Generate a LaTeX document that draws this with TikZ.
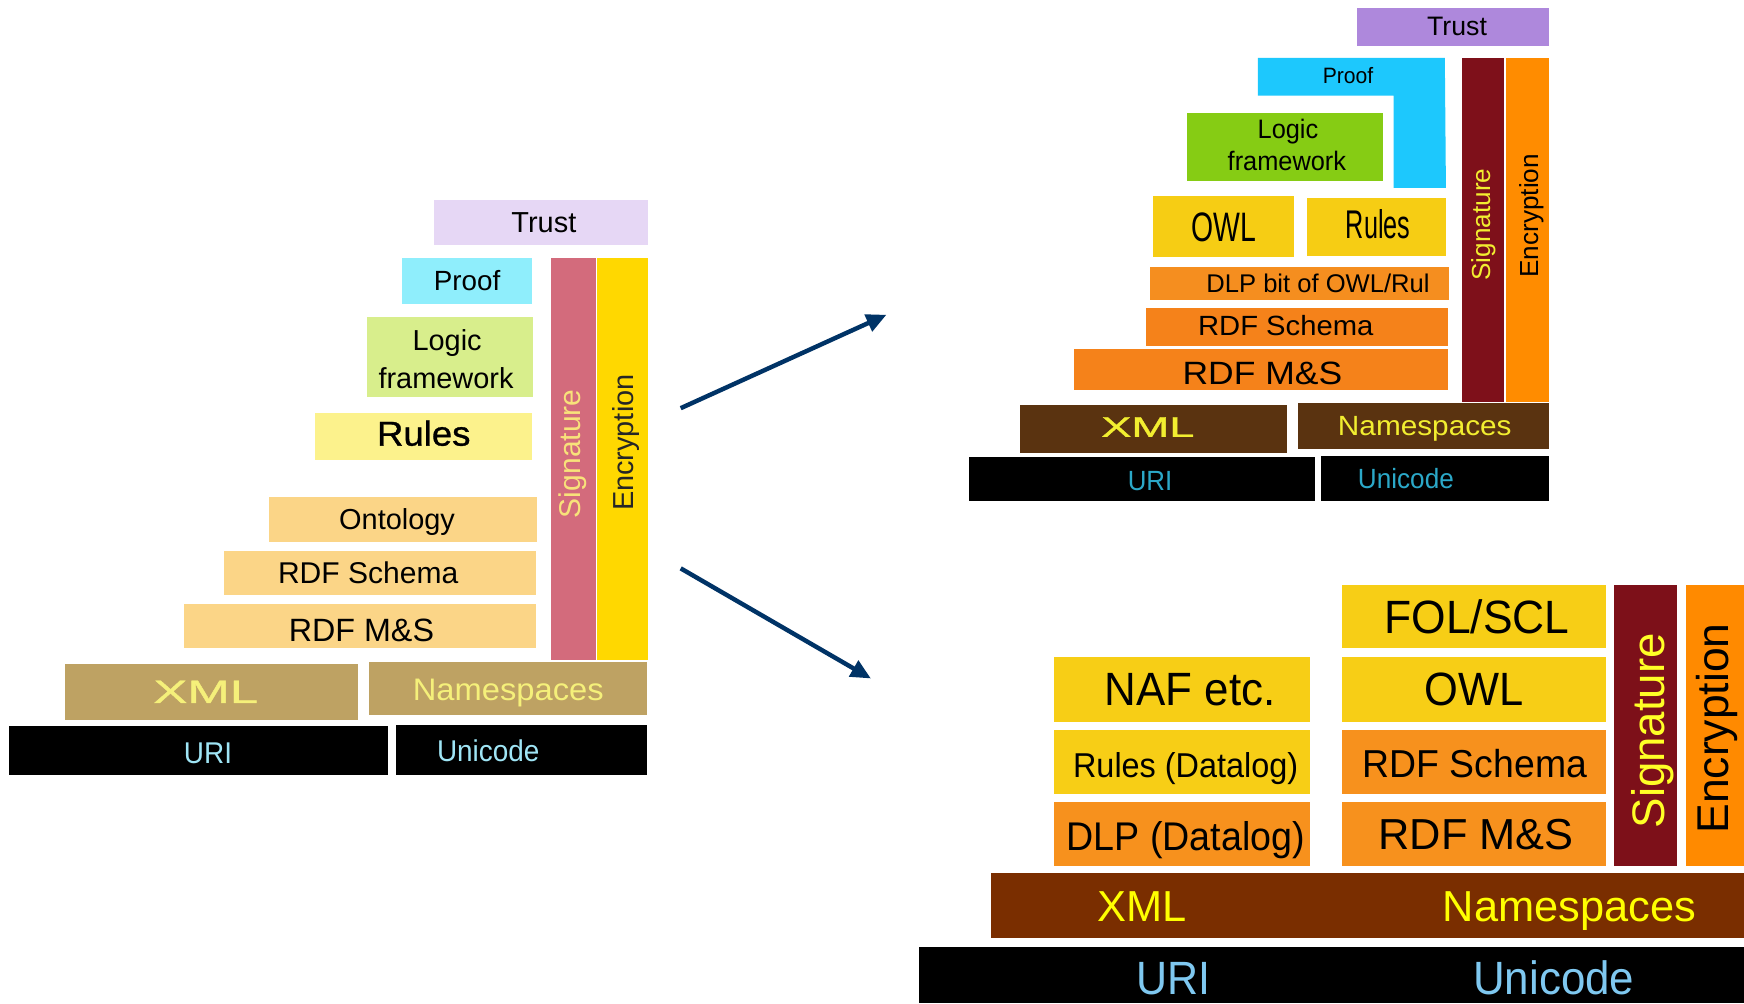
\documentclass[tikz,border=0pt]{standalone}
\usepackage{fontspec}
\setmainfont{Liberation Sans}
\setsansfont{Liberation Sans}
\newfontfamily\medfont{Liberation Sans}[FakeBold=0.9]
\usepackage{graphicx}
\usetikzlibrary{fit,arrows.meta}
\newcommand\tx[3]{\fontsize{#1}{#1}\selectfont\scalebox{#2}[1]{\smash{#3}}\rule{0pt}{\fontcharht\font`H}}
\newcommand\bx[6]{\node[fit={(#2,#3) (#4,#5)}, inner sep=0pt, fill=#6, draw=none] (#1) {};}
% left colours
\definecolor{lTrust}{HTML}{E6D7F5}
\definecolor{lProof}{HTML}{8FEEFC}
\definecolor{lLogic}{HTML}{D8EE8C}
\definecolor{lRules}{HTML}{FCF28C}
\definecolor{lOnto}{HTML}{FBD587}
\definecolor{lSig}{HTML}{D36B7C}
\definecolor{lEnc}{HTML}{FFD800}
\definecolor{lXml}{HTML}{BEA263}
\definecolor{lXmlTxt}{HTML}{F5F07A}
\definecolor{lUriTxt}{HTML}{9FE5F5}
\definecolor{lSigTxt}{HTML}{F8E27A}
% top right colours
\definecolor{rTrust}{HTML}{AE88DC}
\definecolor{rProof}{HTML}{1DC8FD}
\definecolor{rLogic}{HTML}{86CC14}
\definecolor{rYel}{HTML}{F6CD14}
\definecolor{rDlp}{HTML}{F58E1F}
\definecolor{rOr}{HTML}{F5821A}
\definecolor{rSig}{HTML}{7E101A}
\definecolor{rEnc}{HTML}{FF8C00}
\definecolor{rXml}{HTML}{5A3310}
\definecolor{rTxtY}{HTML}{F2EE30}
\definecolor{rUriTxt}{HTML}{2BA8C8}
% bottom right colours
\definecolor{bYel}{HTML}{F7CE16}
\definecolor{bOr}{HTML}{F7911D}
\definecolor{bSig}{HTML}{7D1019}
\definecolor{bEnc}{HTML}{FF8A00}
\definecolor{bXml}{HTML}{7A2E00}
\definecolor{bTxtY}{HTML}{FFFF00}
\definecolor{bUriTxt}{HTML}{7FC8F0}
\definecolor{arrowc}{HTML}{003366}
\begin{document}
\begin{tikzpicture}[x=1pt,y=-1pt,
  lbl/.style={inner sep=0pt, anchor=center},
  conn/.style={draw=arrowc, line width=4pt, -{Triangle[length=18pt,width=16pt]}}]
\useasboundingbox (0,0) rectangle (1568,902);
\fill[white] (0,0) rectangle (1568,902);
%%%%%%%%%%%%%%%% LEFT
\bx{trustL}{390}{180}{583}{220}{lTrust}
\bx{proofL}{361}{232}{478}{273}{lProof}
\bx{logicL}{330}{285}{479}{357}{lLogic}
\bx{rulesL}{283}{371}{478}{414}{lRules}
\bx{ontoL}{242}{447}{483}{487}{lOnto}
\bx{rdfsL}{201}{495}{482}{535}{lOnto}
\bx{rdfmsL}{165}{543}{482}{583}{lOnto}
\bx{sigL}{495}{232}{536}{593}{lSig}
\bx{encL}{537}{232}{583}{593}{lEnc}
\bx{xmlL}{58}{597}{322}{647}{lXml}
\bx{nsL}{332}{595}{582}{643}{lXml}
\bx{uriL}{8}{653}{349}{697}{black}
\bx{uniL}{356}{652}{582}{697}{black}
\node[lbl] (trustLt) at (489,200) {\tx{26}{1}{Trust}};
\node[lbl] (proofLt) at (420,253) {\tx{25}{1}{Proof}};
\node[lbl] (logicLt) at (402,306) {\tx{26}{1}{Logic}};
\node[lbl] (frameLt) at (401,340) {\tx{26}{1}{framework}};
\node[lbl] (rulesLt) at (381,390) {\medfont\tx{31}{1.06}{Rules}};
\node[lbl] (ontoLt) at (357,467) {\tx{26}{1}{Ontology}};
\node[lbl] (rdfsLt) at (331,515) {\tx{27}{1}{RDF Schema}};
\node[lbl] (rdfmsLt) at (325,567) {\tx{29}{1}{RDF M\&S}};
\node[lbl, text=lXmlTxt] (xmlLt) at (185,622) {\medfont\tx{29}{1.58}{XML}};
\node[lbl, text=lXmlTxt] (nsLt) at (457,620) {\tx{28}{1.05}{Namespaces}};
\node[lbl, text=lUriTxt] (uriLt) at (187,677) {\tx{27}{0.93}{URI}};
\node[lbl, text=lUriTxt] (uniLt) at (439,675) {\tx{27}{0.93}{Unicode}};
\node[lbl, rotate=90, text=lSigTxt] (sigLt) at (513,408) {\tx{27}{1}{Signature}};
\node[lbl, rotate=90, text=black!85] (encLt) at (561,398) {\tx{26}{1}{Encryption}};
%%%%%%%%%%%%%%%% TOP RIGHT
\bx{trustR}{1220}{7}{1393}{41}{rTrust}
\fill[rProof] (1131,52) -- (1299,52) -- (1300,169) -- (1253,169) -- (1253,86) -- (1131,86) -- cycle;
\coordinate (proofRc) at (1215,69);
\bx{logicR}{1067}{102}{1243}{163}{rLogic}
\bx{owlR}{1037}{176}{1163}{231}{rYel}
\bx{rulesR}{1175}{178}{1300}{230}{rYel}
\bx{dlpR}{1034}{240}{1303}{270}{rDlp}
\bx{rdfsR}{1030}{277}{1302}{311}{rOr}
\bx{rdfmsR}{966}{314}{1302}{351}{rOr}
\bx{sigR}{1314}{52}{1352}{361}{rSig}
\bx{encR}{1354}{52}{1393}{361}{rEnc}
\bx{xmlR}{917}{364}{1157}{407}{rXml}
\bx{nsR}{1167}{362}{1393}{404}{rXml}
\bx{uriR}{871}{411}{1182}{450}{black}
\bx{uniR}{1188}{410}{1393}{450}{black}
\node[lbl] (trustRt) at (1310,24) {\tx{24}{1}{Trust}};
\node[lbl] (proofRt) at (1212,68) {\tx{20}{0.95}{Proof}};
\node[lbl] (logicRt) at (1158,116) {\tx{24}{0.95}{Logic}};
\node[lbl] (frameRt) at (1157,145) {\tx{24}{0.95}{framework}};
\node[lbl] (owlRt) at (1100,204) {\tx{37}{0.69}{OWL}};
\node[lbl] (rulesRt) at (1239,202) {\tx{36}{0.63}{Rules}};
\node[lbl] (dlpRt) at (1185,255) {\tx{23}{1}{DLP bit of OWL/Rul}};
\node[lbl] (rdfsRt) at (1156,293) {\tx{25}{1.05}{RDF Schema}};
\node[lbl] (rdfmsRt) at (1135,336) {\tx{29}{1.1}{RDF M\&S}};
\node[lbl, text=rTxtY] (xmlRt) at (1032,384) {\medfont\tx{25.5}{1.6}{XML}};
\node[lbl, text=rTxtY] (nsRt) at (1281,383) {\tx{25}{1.07}{Namespaces}};
\node[lbl, text=rUriTxt] (uriRt) at (1034,432) {\tx{25}{0.93}{URI}};
\node[lbl, text=rUriTxt] (uniRt) at (1264,431) {\tx{25}{0.94}{Unicode}};
\node[lbl, rotate=90, text=rTxtY] (sigRt) at (1332,202) {\tx{23.5}{1}{Signature}};
\node[lbl, rotate=90, text=black] (encRt) at (1375,194) {\tx{23.5}{1}{Encryption}};
%%%%%%%%%%%%%%%% BOTTOM RIGHT
\bx{folB}{1207}{526}{1444}{583}{bYel}
\bx{nafB}{948}{591}{1178}{649}{bYel}
\bx{owlB}{1207}{591}{1444}{649}{bYel}
\bx{rulesB}{948}{656}{1178}{714}{bYel}
\bx{rdfsB}{1207}{656}{1444}{714}{bOr}
\bx{dlpB}{948}{721}{1178}{779}{bOr}
\bx{rdfmsB}{1207}{721}{1444}{779}{bOr}
\bx{sigB}{1451}{526}{1508}{779}{bSig}
\bx{encB}{1516}{526}{1568}{779}{bEnc}
\bx{xmlB}{891}{785}{1568}{843}{bXml}
\bx{uriB}{826}{851}{1568}{902}{black}
\node[lbl] (folBt) at (1328,555) {\tx{42}{0.95}{FOL/SCL}};
\node[lbl] (nafBt) at (1070,620) {\tx{42}{0.94}{NAF etc.}};
\node[lbl] (owlBt) at (1325,620) {\tx{42}{0.93}{OWL}};
\node[lbl] (rulesBt) at (1066,688) {\tx{31}{0.94}{Rules (Datalog)}};
\node[lbl] (rdfsBt) at (1326,687) {\tx{35}{0.96}{RDF Schema}};
\node[lbl] (dlpBt) at (1066,752) {\tx{36}{0.94}{DLP (Datalog)}};
\node[lbl] (rdfmsBt) at (1327,750) {\tx{39}{1}{RDF M\&S}};
\node[lbl, rotate=90, text=bTxtY!85!white] (sigBt) at (1482,657) {\tx{41}{1}{Signature}};
\node[lbl, rotate=90, text=black] (encBt) at (1540,655) {\tx{40}{1}{Encryption}};
\node[lbl, text=bTxtY] (xmlBt) at (1027,815) {\tx{39}{1}{XML}};
\node[lbl, text=bTxtY] (nsBt) at (1411,815) {\tx{39}{1}{Namespaces}};
\node[lbl, text=bUriTxt] (uriBt) at (1055,880) {\tx{42}{0.92}{URI}};
\node[lbl, text=bUriTxt] (uniBt) at (1397,880) {\tx{42}{0.94}{Unicode}};
%%%%%%%%%%%%%%%% ARROWS
\coordinate (a1s) at (612,367);
\coordinate (a1e) at (797,283);
\coordinate (a2s) at (612,511);
\coordinate (a2e) at (783,610);
\draw[conn] (a1s) -- (a1e);
\draw[conn] (a2s) -- (a2e);
\end{tikzpicture}
\end{document}
